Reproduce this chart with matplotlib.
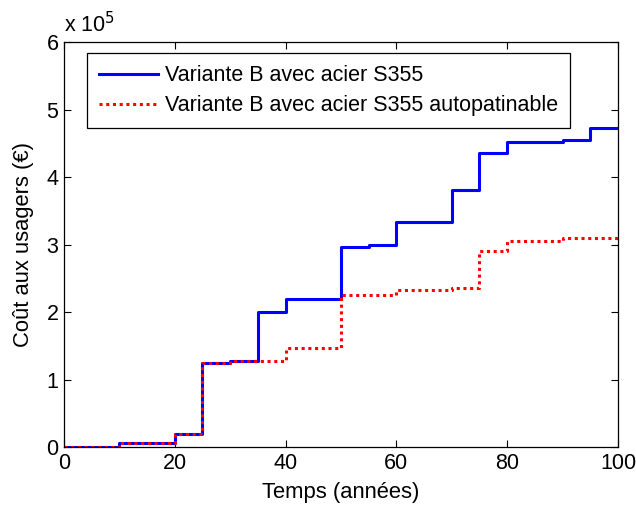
import matplotlib
matplotlib.use("Agg")
import matplotlib.pyplot as plt
from matplotlib.ticker import FuncFormatter, MultipleLocator

years = [0, 10, 20, 25, 30, 35, 40, 50, 55, 60, 70, 75, 80, 90, 95, 100]
cost_s355 = [0, 5.5e3, 2.0e4, 1.24e5, 1.28e5, 2.0e5, 2.2e5, 2.97e5, 3.0e5,
             3.33e5, 3.81e5, 4.36e5, 4.52e5, 4.55e5, 4.72e5, 4.72e5]
cost_autopat = [0, 5.5e3, 2.0e4, 1.24e5, 1.28e5, 1.28e5, 1.47e5, 2.25e5, 2.25e5,
                2.33e5, 2.35e5, 2.91e5, 3.06e5, 3.09e5, 3.09e5, 3.09e5]
labels = ["Variante B avec acier S355", "Variante B avec acier S355 autopatinable"]

plt.rcParams['font.family'] = ['Liberation Sans', 'DejaVu Sans']
fs = 15.5

fig = plt.figure(figsize=(6.36, 5.07), dpi=100)
ax = fig.add_axes([0.1006, 0.1183, 0.871, 0.7987])

ax.step(years, cost_s355, where='post', color='#0000ff', lw=2.2, label=labels[0])
ax.step(years, cost_autopat, where='post', color='#ff0000', lw=2.2,
        linestyle=(0, (1, 1.2)), label=labels[1])

ax.set_xlim(0, 100)
ax.set_ylim(0, 6e5)
ax.xaxis.set_major_locator(MultipleLocator(20))
ax.yaxis.set_major_locator(MultipleLocator(1e5))
ax.yaxis.set_major_formatter(FuncFormatter(lambda v, p: f"{v/1e5:g}"))
ax.tick_params(direction='in', top=True, right=True, labelsize=fs, length=5,
               width=0.8, pad=4)
for s in ax.spines.values():
    s.set_linewidth(0.9)

ax.set_xlabel("Temps (années)", fontsize=15.8, labelpad=6)
ax.set_ylabel("Coût aux usagers (€)", fontsize=15.8, labelpad=9)
ax.text(0.0, 1.012, r"x 10$^{5}$", transform=ax.transAxes, fontsize=fs,
        ha='left', va='bottom')

leg = ax.legend(loc='upper left', bbox_to_anchor=(0.042, 0.972), fontsize=fs,
                frameon=True, fancybox=False, edgecolor='black', framealpha=1,
                borderaxespad=0, handlelength=2.75, handletextpad=0.3,
                labelspacing=0.42, borderpad=0.55)
leg.get_frame().set_linewidth(0.9)

fig.savefig("out.png", dpi=100)
